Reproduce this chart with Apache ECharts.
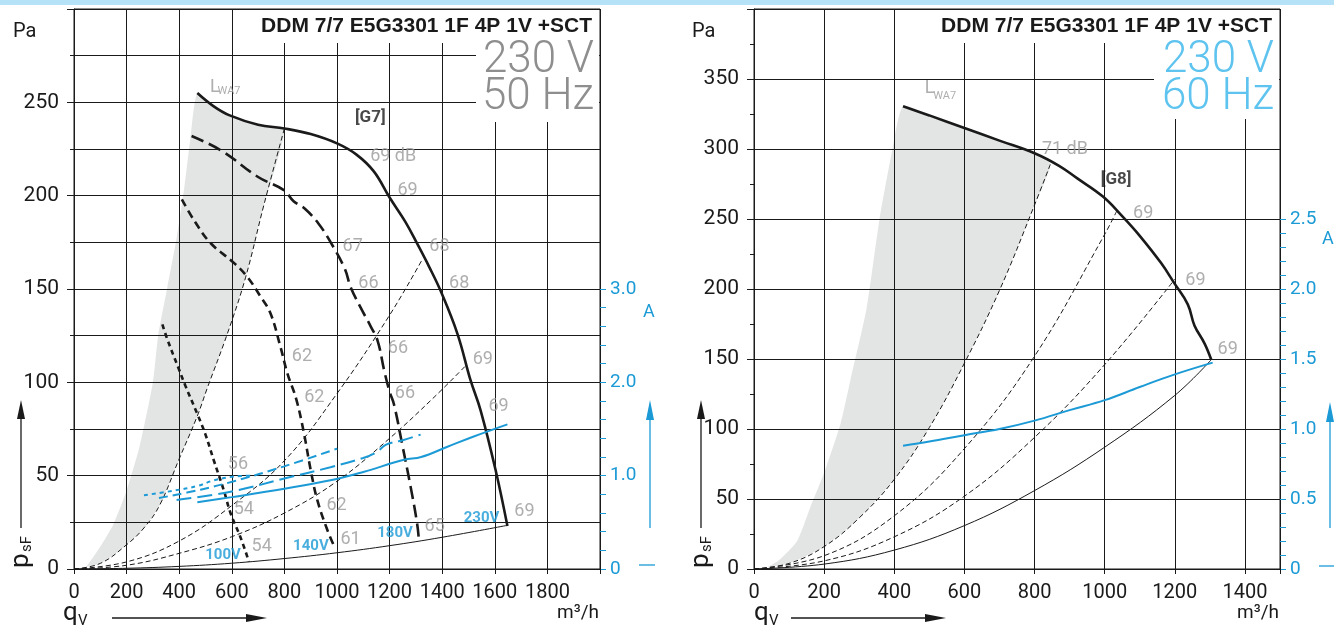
<!DOCTYPE html>
<html>
<head>
<meta charset="utf-8">
<title>DDM 7/7 E5G3301 1F 4P 1V +SCT</title>
<script src="https://cdn.jsdelivr.net/npm/echarts@6.0.0/dist/echarts.min.js"></script>
<style>
  html, body { margin: 0; padding: 0; background: #fff; }
  #chart { width: 1334px; height: 628px; }
</style>
</head>
<body>
<div id="chart"></div>
<script>
// ---- 230 V / 50 Hz : pressure curves, qV [m3/h] / psF [Pa]
const p50_230V = [[469,255],[530,248],[592,243],[700,238],[800,236],[900,233],[1000,228],[1074,222],[1140,213],[1200,199],[1260,186],[1306,174],[1350,162],[1394,149],[1458,126],[1508,101],[1546,85],[1603,53],[1648,23]];
const p50_180V = [[447,232],[562,224],[700,210],[798,203],[835,197],[878,193],[930,185],[976,175],[1029,161],[1052,151],[1090,140],[1128,130],[1155,122],[1180,106],[1200,95],[1217,88],[1249,66],[1280,44],[1305,24],[1312,14.5]];
const p50_140V = [[410,198],[460,186],[520,174.5],[608,164],[659,156.5],[709,146],[747,137],[785,119],[811,105],[845,91],[874,73],[900,53],[925,37],[963,21],[990,12]];
const p50_100V = [[336,131],[355,123],[399,107],[424,98],[469,83],[500,72],[532,58],[570,42],[595,30],[633,17],[665,4]];
// system (resistance) curves
const sys50_a = [[0,0],[100,3],[200,13],[266,22],[325,34],[400,59],[469,82],[507,97],[583,126],[652,156],[722,195],[800,236]];
const sys50_b = [[0,0],[200,3.8],[400,15],[600,34],[800,58],[1000,94],[1200,136],[1325,166]];
const sys50_c = [[0,0],[200,2],[400,8.4],[600,17.3],[800,30],[1000,47],[1200,70],[1369,92],[1490,109]];
const sys50_min = [[0,0],[200,0.4],[400,1.4],[600,3.1],[800,5.6],[1000,8.7],[1200,12.5],[1400,17],[1648,23.4]];
// LWA7 shaded zone, left edge (top edge follows 230V curve, right edge sys50_a)
const zone50_left = [[38,0],[100,12],[150,24],[200,42],[250,66],[300,100],[320,125],[355,151],[390,177],[420,205],[442,230],[469,255]];
// current [A]
const i50_100V = [[266,0.79],[380,0.84],[470,0.89],[532,0.95],[608,0.99],[684,1.0]];
const i50_140V = [[323,0.76],[481,0.85],[608,0.94],[799,1.10],[1001,1.29]];
const i50_180V = [[390,0.74],[600,0.83],[800,0.97],[975,1.09],[1100,1.19],[1150,1.25],[1185,1.33],[1250,1.38],[1318,1.44]];
const i50_230V = [[469,0.715],[600,0.77],[800,0.86],[975,0.95],[1100,1.04],[1255,1.17],[1320,1.20],[1420,1.31],[1520,1.42],[1648,1.55]];
// sound levels dB at points
const lev50 = [[1126,221,'69 dB'],[1230,203,'69'],[1021,173,'67'],[1351,173,'68'],[1081,153,'66'],[1426,153,'68'],
  [828,114,'62'],[1193,118,'66'],[1516,112,'69'],[875,92,'62'],[1220,94,'66'],[1576,87,'69'],
  [585,56,'56'],[607,32,'54'],[960,34,'62'],[675,12,'54'],[1013,16,'61'],[1333,23,'65'],[1674,31,'69']];
const volt50 = [[499,7.5,'100V'],[833,12.3,'140V'],[1153,19,'180V'],[1482,27,'230V']];
const tag50 = [[1068,242,'[G7]']];
const lwa50 = [[517,258,'L'],[546,256,'WA7']];

// ---- 230 V / 60 Hz
const p60_230V = [[425,330.5],[500,324],[600,315],[700,306],[800,297],[870,288],[922,279],[995,266],[1050,252],[1100,238],[1161,218.5],[1199,204],[1237,189],[1256,174],[1285,161],[1304,149.5]];
const sys60_a = [[0,0],[100,4],[200,16],[300,36.5],[400,64],[500,101],[600,147],[700,199],[800,260],[845,289]];
const sys60_b = [[0,0],[200,9.5],[400,38],[600,86],[800,152],[1000,239],[1035,256]];
const sys60_c = [[0,0],[200,5.8],[400,23],[600,52],[800,94],[1000,146],[1200,207]];
const sys60_min = [[0,0],[200,3.5],[400,13.5],[600,31],[800,56],[1000,87],[1200,124],[1304,149.5]];
const zone60_left = [[27,0],[70,6],[123,20],[162,45],[199,68],[247,104],[275,135],[321,186],[358,250],[395,300],[425,330.5]];
const i60_230V = [[425,0.88],[500,0.91],[600,0.956],[700,1.0],[800,1.06],[900,1.135],[1000,1.206],[1100,1.30],[1200,1.39],[1308,1.474]];
const lev60 = [[821,300,'71 dB'],[1081,254,'69'],[1230,206,'69'],[1322,157,'69']];
const tag60 = [[989,278,'[G8]']];
const lwa60 = [[487,343,'L'],[511,338,'WA7']];

const BLACK = '#1a1a1a', BLUE = '#1b9ad6', GREY_TXT = '#9a9a9a', ZONE = '#e3e4e4';
const FONT = 'Roboto, "Liberation Sans", sans-serif';

const chart = echarts.init(document.getElementById('chart'), null, { renderer: 'canvas' });

function zonePolygon(left, top, right) {
  // closed outline: left edge up, along top curve, down the resistance curve
  const topPart = top.filter(p => p[0] > left[left.length - 1][0] && p[0] < right[right.length - 1][0]);
  return left.concat(topPart, right.slice().reverse());
}

function zoneSeries(pts, xi, yi) {
  return {
    type: 'custom', xAxisIndex: xi, yAxisIndex: yi, silent: true, z: -1,
    data: [[0, 0]],
    renderItem: function (params, api) {
      return { type: 'polygon', shape: { points: pts.map(p => api.coord(p)), smooth: 0.2 }, style: { fill: ZONE } };
    }
  };
}

function line(data, xi, yi, color, width, dash) {
  return {
    type: 'line', xAxisIndex: xi, yAxisIndex: yi, data: data, showSymbol: false, silent: true,
    smooth: 0.4,
    lineStyle: { color: color, width: width, type: dash || 'solid', cap: 'butt' }
  };
}

function labels(items, xi, yi, style) {
  return {
    type: 'scatter', xAxisIndex: xi, yAxisIndex: yi, symbolSize: 0, silent: true, z: 5,
    data: items.map(d => ({ value: [d[0], d[1]], name: d[2] })),
    label: Object.assign({ show: true, position: 'right', distance: 0, formatter: '{b}', fontFamily: FONT }, style)
  };
}

function mainX(gi, max) {
  return {
    type: 'value', gridIndex: gi, min: 0, max: max, interval: 200,
    axisLine: { show: true, lineStyle: { color: BLACK } },
    axisTick: { show: true, length: 5, lineStyle: { color: BLACK } },
    axisLabel: { fontSize: 20, color: BLACK, fontFamily: FONT, margin: 14, formatter: v => v >= max ? '' : String(v) },
    splitLine: { show: true, lineStyle: { color: BLACK, width: 1 } }
  };
}
function mainY(gi, max, minorLines) {
  return {
    type: 'value', gridIndex: gi, min: 0, max: max, interval: 50,
    axisLine: { show: true, lineStyle: { color: BLACK } },
    axisTick: { show: true, length: 7, lineStyle: { color: BLACK } },
    minorTick: { show: true, splitNumber: 2, length: 4, lineStyle: { color: BLACK } },
    minorSplitLine: { show: minorLines, lineStyle: { color: BLACK, width: 1 } },
    axisLabel: { fontSize: 21, color: BLACK, fontFamily: FONT, margin: 15, formatter: v => v >= max ? '' : String(v) },
    splitLine: { show: true, lineStyle: { color: BLACK, width: 1 } }
  };
}
// current axis on the right: a tick every step, a label every labelStep
function ampY(gi, max, step, labelStep) {
  return {
    type: 'value', gridIndex: gi, position: 'right', min: 0, max: max, interval: step,
    axisLine: { show: false, onZero: false },
    axisTick: { show: true, length: 6, lineStyle: { color: BLUE } },
    axisLabel: {
      fontSize: 19, color: BLUE, fontFamily: FONT, margin: 10,
      formatter: function (v) {
        const k = v / labelStep;
        if (Math.abs(k - Math.round(k)) > 1e-6) return '';
        return v === 0 ? '0' : v.toFixed(1);
      }
    },
    splitLine: { show: false }
  };
}
function hiddenX(gi, max) {
  return { type: 'value', gridIndex: gi, min: 0, max: max, show: false, axisLine: { onZero: false } };
}

function txt(x, y, text, font, fill, align, vAlign, rot) {
  return {
    type: 'text', x: x, y: y, z: 20, rotation: rot || 0, silent: true,
    style: { text: text, font: font, fill: fill, align: align || 'left', verticalAlign: vAlign || 'middle',
      textAlign: align || 'left', textVerticalAlign: vAlign || 'middle' }
  };
}
function seg(x1, y1, x2, y2, color) {
  return { type: 'line', z: 20, silent: true, shape: { x1: x1, y1: y1, x2: x2, y2: y2 }, style: { stroke: color, lineWidth: 1.3 } };
}
function head(pts, color) {
  return { type: 'polygon', z: 20, silent: true, shape: { points: pts }, style: { fill: color } };
}
function whiteBox(x, y, w, h) {
  return { type: 'rect', z: 1, silent: true, shape: { x: x, y: y, width: w, height: h }, style: { fill: '#fff' } };
}

const zone50 = zonePolygon(zone50_left, p50_230V, sys50_a);
const zone60 = zonePolygon(zone60_left, p60_230V, sys60_a);

const gridBase = { show: true, borderColor: BLACK, borderWidth: 1, backgroundColor: 'transparent' };

chart.setOption({
  animation: false,
  backgroundColor: '#fff',
  grid: [
    Object.assign({ left: 74, top: 9, width: 526, height: 560 }, gridBase),
    { left: 74, top: 289, width: 526, height: 280, show: false },
    Object.assign({ left: 754, top: 9, width: 526, height: 560 }, gridBase),
    { left: 754, top: 219, width: 526, height: 350, show: false }
  ],
  xAxis: [mainX(0, 2000), hiddenX(1, 2000), mainX(2, 1500), hiddenX(3, 1500)],
  yAxis: [mainY(0, 300, true), ampY(1, 3, 0.2, 1), mainY(2, 400, false), ampY(3, 2.5, 0.1, 0.5)],
  series: [
    zoneSeries(zone50, 0, 0),
    line(sys50_a, 0, 0, BLACK, 1, [5, 3]),
    line(sys50_b, 0, 0, BLACK, 1, [5, 3]),
    line(sys50_c, 0, 0, BLACK, 1, [5, 3]),
    line(sys50_min, 0, 0, BLACK, 1),
    line(p50_230V, 0, 0, BLACK, 2.6),
    line(p50_180V, 0, 0, BLACK, 2.6, [13, 6]),
    line(p50_140V, 0, 0, BLACK, 2.6, [8, 5]),
    line(p50_100V, 0, 0, BLACK, 2.6, [5, 4]),
    line(i50_100V, 1, 1, BLUE, 2, [4, 4]),
    line(i50_140V, 1, 1, BLUE, 2, [9, 5]),
    line(i50_180V, 1, 1, BLUE, 2, [15, 6]),
    line(i50_230V, 1, 1, BLUE, 2),
    labels(lev50, 0, 0, { fontSize: 18, color: GREY_TXT }),
    labels(volt50, 0, 0, { fontSize: 15, color: BLUE, fontWeight: 'bold' }),
    labels(tag50, 0, 0, { fontSize: 17, color: BLACK, fontWeight: 'bold' }),
    labels(lwa50.slice(0, 1), 0, 0, { fontSize: 18, color: GREY_TXT }),
    labels(lwa50.slice(1), 0, 0, { fontSize: 11, color: GREY_TXT }),

    zoneSeries(zone60, 2, 2),
    line(sys60_a, 2, 2, BLACK, 1, [5, 3]),
    line(sys60_b, 2, 2, BLACK, 1, [5, 3]),
    line(sys60_c, 2, 2, BLACK, 1, [5, 3]),
    line(sys60_min, 2, 2, BLACK, 1),
    line(p60_230V, 2, 2, BLACK, 2.6),
    line(i60_230V, 3, 3, BLUE, 2),
    labels(lev60, 2, 2, { fontSize: 18, color: GREY_TXT }),
    labels(tag60, 2, 2, { fontSize: 17, color: BLACK, fontWeight: 'bold' }),
    labels(lwa60.slice(0, 1), 2, 2, { fontSize: 18, color: GREY_TXT }),
    labels(lwa60.slice(1), 2, 2, { fontSize: 11, color: GREY_TXT })
  ],
  graphic: { elements: [
    { type: 'rect', z: 20, silent: true, shape: { x: 0, y: 0, width: 1334, height: 5 }, style: { fill: '#b5e2f6' } },
    // left panel
    whiteBox(252, 10, 347, 33), whiteBox(476, 10, 123, 112),
    txt(592, 26, 'DDM 7/7 E5G3301 1F 4P 1V +SCT', 'bold 21px "Liberation Sans", sans-serif', BLACK, 'right'),
    txt(594, 61, '230 V', '300 44px Roboto, sans-serif', '#8e8e8e', 'right'),
    txt(594, 98, '50 Hz', '300 44px Roboto, sans-serif', '#8e8e8e', 'right'),
    txt(13, 32, 'Pa', '20px ' + FONT, BLACK),
    txt(21, 568, 'p', '26px ' + FONT, BLACK, 'left', 'middle', Math.PI / 2),
    txt(27, 552, 'sF', '15px ' + FONT, BLACK, 'left', 'middle', Math.PI / 2),
    seg(21, 528, 21, 416, BLACK), head([[21, 400], [17, 419], [25, 419]], BLACK),
    txt(63, 613, 'q', '26px ' + FONT, BLACK),
    txt(78, 621, 'V', '15px ' + FONT, BLACK),
    seg(112, 618, 248, 618, BLACK), head([[267, 618], [246, 614], [246, 622]], BLACK),
    txt(599, 613, 'm³/h', '19px ' + FONT, BLACK, 'right'),
    txt(643, 312, 'A', '18px ' + FONT, BLUE),
    seg(650, 528, 650, 418, BLUE), head([[650, 400], [646, 420], [654, 420]], BLUE),
    seg(639, 565, 655, 565, BLUE),
    // right panel
    whiteBox(928, 10, 351, 33), whiteBox(1154, 10, 125, 109),
    txt(1272, 26, 'DDM 7/7 E5G3301 1F 4P 1V +SCT', 'bold 21px "Liberation Sans", sans-serif', BLACK, 'right'),
    txt(1274, 61, '230 V', '300 44px Roboto, sans-serif', '#5ec4ef', 'right'),
    txt(1274, 98, '60 Hz', '300 44px Roboto, sans-serif', '#5ec4ef', 'right'),
    txt(692, 32, 'Pa', '20px ' + FONT, BLACK),
    txt(701, 568, 'p', '26px ' + FONT, BLACK, 'left', 'middle', Math.PI / 2),
    txt(707, 552, 'sF', '15px ' + FONT, BLACK, 'left', 'middle', Math.PI / 2),
    seg(701, 528, 701, 416, BLACK), head([[701, 400], [697, 419], [705, 419]], BLACK),
    txt(754, 613, 'q', '26px ' + FONT, BLACK),
    txt(769, 621, 'V', '15px ' + FONT, BLACK),
    seg(791, 618, 926, 618, BLACK), head([[946, 618], [925, 614], [925, 622]], BLACK),
    txt(1279, 613, 'm³/h', '19px ' + FONT, BLACK, 'right'),
    txt(1322, 239, 'A', '18px ' + FONT, BLUE),
    seg(1330, 528, 1330, 420, BLUE), head([[1330, 402], [1326, 422], [1334, 422]], BLUE),
    seg(1319, 566, 1334, 566, BLUE)
  ] }
});
</script>
</body>
</html>
